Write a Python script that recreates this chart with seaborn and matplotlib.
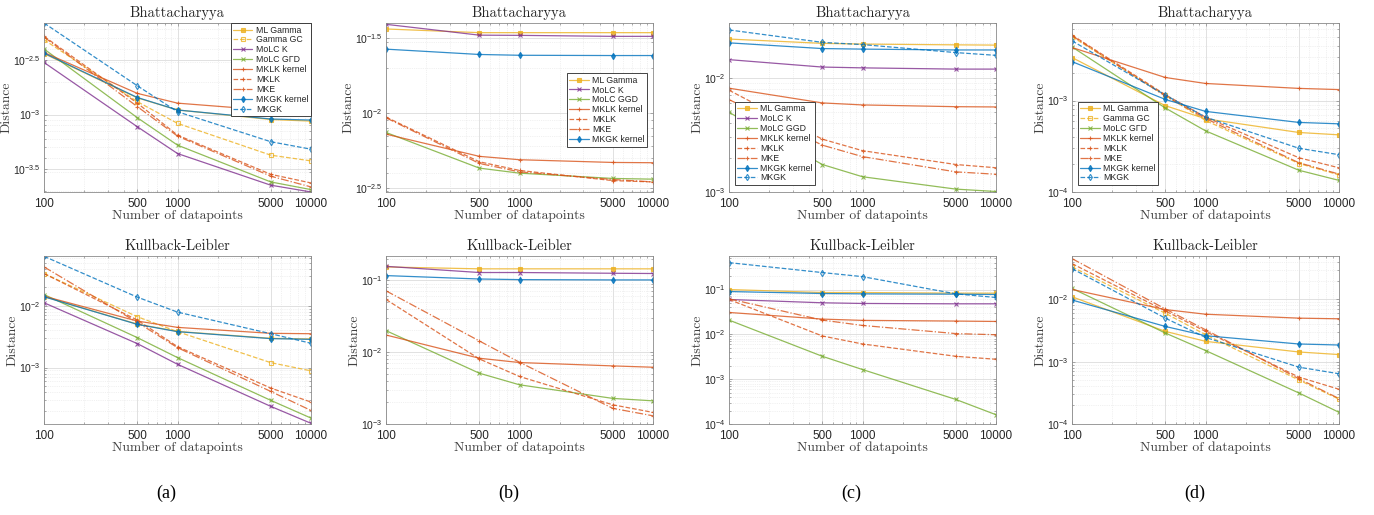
import matplotlib
matplotlib.use("Agg")
import matplotlib.pyplot as plt
import numpy as np
import seaborn as sns
from matplotlib.ticker import LogLocator, NullFormatter

# ---- datos (distancia vs. número de datos) ----
N_POINTS = [100, 500, 1000, 5000, 10000]

BHATT_A = {
    "ML Gamma":    [3.60e-3, 1.42e-3, 1.10e-3, 9.00e-4, 8.70e-4],
    "Gamma GC":    [4.82e-3, 1.31e-3, 8.30e-4, 4.25e-4, 3.77e-4],
    "MoLC K":      [2.99e-3, 7.73e-4, 4.40e-4, 2.26e-4, 1.96e-4],
    "MoLC GΓD":    [3.97e-3, 9.35e-4, 5.25e-4, 2.42e-4, 2.06e-4],
    "MKLK kernel": [3.69e-3, 1.56e-3, 1.27e-3, 1.09e-3, 1.05e-3],
    "MKLK":        [5.18e-3, 1.27e-3, 6.48e-4, 2.84e-4, 2.37e-4],
    "MKE":         [5.10e-3, 1.18e-3, 6.35e-4, 2.73e-4, 2.18e-4],
    "MKGK kernel": [3.64e-3, 1.43e-3, 1.10e-3, 9.10e-4, 8.90e-4],
    "MKGK":        [6.85e-3, 1.83e-3, 1.06e-3, 5.64e-4, 4.82e-4],
}
BHATT_B = {
    "ML Gamma":    [0.0364, 0.0344, 0.0344, 0.0344, 0.0344],
    "MoLC K":      [0.0391, 0.0331, 0.0330, 0.0325, 0.0325],
    "MoLC GGD":    [7.42e-3, 4.29e-3, 3.97e-3, 3.66e-3, 3.62e-3],
    "MKLK kernel": [7.23e-3, 5.14e-3, 4.88e-3, 4.68e-3, 4.66e-3],
    "MKLK":        [9.40e-3, 4.73e-3, 4.14e-3, 3.54e-3, 3.47e-3],
    "MKE":         [9.30e-3, 4.61e-3, 4.05e-3, 3.60e-3, 3.47e-3],
    "MKGK kernel": [0.0267, 0.0246, 0.0243, 0.0242, 0.0242],
}
BHATT_C = {
    "ML Gamma":    [0.0218, 0.0200, 0.0197, 0.0194, 0.0193],
    "MoLC K":      [0.0144, 0.0124, 0.0122, 0.0119, 0.0119],
    "MoLC GGD":    [4.98e-3, 1.74e-3, 1.36e-3, 1.06e-3, 1.01e-3],
    "MKLK kernel": [8.10e-3, 6.02e-3, 5.78e-3, 5.58e-3, 5.55e-3],
    "MKLK":        [7.78e-3, 2.90e-3, 2.30e-3, 1.74e-3, 1.63e-3],
    "MKE":         [6.44e-3, 2.57e-3, 2.04e-3, 1.50e-3, 1.43e-3],
    "MKGK kernel": [0.0202, 0.0180, 0.0178, 0.0175, 0.0175],
    "MKGK":        [0.0262, 0.0204, 0.0195, 0.0166, 0.0157],
}
BHATT_D = {
    "ML Gamma":    [2.96e-3, 8.80e-4, 6.33e-4, 4.48e-4, 4.22e-4],
    "Gamma GC":    [5.00e-3, 1.14e-3, 6.07e-4, 2.05e-4, 1.54e-4],
    "MoLC GΓD":    [3.87e-3, 8.30e-4, 4.67e-4, 1.73e-4, 1.34e-4],
    "MKLK kernel": [3.81e-3, 1.79e-3, 1.54e-3, 1.36e-3, 1.32e-3],
    "MKLK":        [5.21e-3, 1.16e-3, 6.60e-4, 2.37e-4, 1.84e-4],
    "MKE":         [5.13e-3, 1.12e-3, 6.38e-4, 2.09e-4, 1.57e-4],
    "MKGK kernel": [2.67e-3, 1.03e-3, 7.62e-4, 5.77e-4, 5.57e-4],
    "MKGK":        [4.51e-3, 1.15e-3, 6.60e-4, 3.01e-4, 2.56e-4],
}

KL_A = {
    "ML Gamma":    [0.0141, 5.05e-3, 3.85e-3, 2.97e-3, 2.90e-3],
    "Gamma GC":    [0.0333, 6.65e-3, 3.81e-3, 1.20e-3, 8.84e-4],
    "MoLC K":      [0.0112, 2.44e-3, 1.13e-3, 2.35e-4, 1.25e-4],
    "MoLC GΓD":    [0.0152, 3.05e-3, 1.45e-3, 2.94e-4, 1.52e-4],
    "MKLK kernel": [0.0143, 5.66e-3, 4.47e-3, 3.58e-3, 3.53e-3],
    "MKLK":        [0.0333, 5.87e-3, 2.18e-3, 4.65e-4, 2.76e-4],
    "MKE":         [0.0426, 5.39e-3, 2.10e-3, 4.10e-4, 2.02e-4],
    "MKGK kernel": [0.0140, 5.00e-3, 3.81e-3, 2.94e-3, 2.86e-3],
    "MKGK":        [0.0632, 0.0138, 7.90e-3, 3.53e-3, 2.47e-3],
}
KL_B = {
    "ML Gamma":    [0.153, 0.144, 0.144, 0.144, 0.144],
    "MoLC K":      [0.156, 0.128, 0.128, 0.125, 0.124],
    "MoLC GGD":    [0.0199, 5.09e-3, 3.51e-3, 2.27e-3, 2.10e-3],
    "MKLK kernel": [0.0173, 8.22e-3, 7.16e-3, 6.43e-3, 6.16e-3],
    "MKLK":        [0.0540, 8.04e-3, 4.58e-3, 1.85e-3, 1.45e-3],
    "MKE":         [0.0712, 0.0143, 7.23e-3, 1.65e-3, 1.30e-3],
    "MKGK kernel": [0.116, 0.104, 0.102, 0.101, 0.101],
}
KL_C = {
    "ML Gamma":    [0.100, 0.0858, 0.0858, 0.0829, 0.0829],
    "MoLC K":      [0.060, 0.0506, 0.0489, 0.0480, 0.0480],
    "MoLC GGD":    [0.0208, 3.24e-3, 1.64e-3, 3.53e-4, 1.61e-4],
    "MKLK kernel": [0.0308, 0.0219, 0.0205, 0.0198, 0.0194],
    "MKLK":        [0.060, 9.20e-3, 6.10e-3, 3.24e-3, 2.78e-3],
    "MKE":         [0.062, 0.0208, 0.0158, 0.0104, 9.80e-3],
    "MKGK kernel": [0.0903, 0.0815, 0.0801, 0.0788, 0.0774],
    "MKGK":        [0.398, 0.239, 0.194, 0.0801, 0.0664],
}
KL_D = {
    "ML Gamma":    [0.0110, 3.06e-3, 2.12e-3, 1.43e-3, 1.30e-3],
    "Gamma GC":    [0.0331, 5.98e-3, 2.71e-3, 5.08e-4, 2.50e-4],
    "MoLC GΓD":    [0.0150, 2.88e-3, 1.51e-3, 3.15e-4, 1.54e-4],
    "MKLK kernel": [0.0144, 6.85e-3, 5.77e-3, 4.99e-3, 4.87e-3],
    "MKLK":        [0.0374, 6.52e-3, 3.06e-3, 5.66e-4, 3.61e-4],
    "MKE":         [0.0450, 7.01e-3, 3.25e-3, 5.33e-4, 2.56e-4],
    "MKGK kernel": [9.76e-3, 3.67e-3, 2.61e-3, 1.92e-3, 1.85e-3],
    "MKGK":        [0.0311, 4.99e-3, 2.45e-3, 8.16e-4, 6.40e-4],
}

# exponentes de las marcas del eje y
YTICK_EXP = {
    "BA": [-3.5, -3, -2.5], "BB": [-2.5, -2, -1.5], "BC": [-3, -2], "BD": [-4, -3],
    "KA": [-3, -2], "KB": [-3, -2, -1], "KC": [-4, -3, -2, -1], "KD": [-4, -3, -2],
}

# ---- estilos (colores MATLAB por defecto) ----
STYLE = {
    "ML Gamma":    ("#EDB120", "-",  "s", True),
    "Gamma GC":    ("#EDB120", "--", "s", False),
    "MoLC K":      ("#7E2F8E", "-",  "x", True),
    "MoLC GΓD":    ("#77AC30", "-",  "x", True),
    "MoLC GGD":    ("#77AC30", "-",  "x", True),
    "MKLK kernel": ("#D95319", "-",  "+", True),
    "MKLK":        ("#D95319", "--", "+", True),
    "MKE":         ("#D95319", "-.", "+", True),
    "MKGK kernel": ("#0072BD", "-",  "d", True),
    "MKGK":        ("#0072BD", "--", "d", False),
}

sns.set_theme(style="ticks")
plt.rcParams["font.family"] = ["Liberation Sans", "DejaVu Sans"]
plt.rcParams["mathtext.fontset"] = "custom"
plt.rcParams["mathtext.rm"] = "Liberation Sans"
plt.rcParams["mathtext.it"] = "Liberation Sans:italic"

SERIF = "cmr10"


def draw_panel(ax, data, title, ylim_exp, yexps, legend=None):
    ax.set(xscale="log", yscale="log")
    for name, vals in data.items():
        color, ls, marker, filled = STYLE[name]
        sns.lineplot(x=N_POINTS, y=vals, ax=ax, color=color, linestyle=ls, lw=0.9,
                     marker=marker, markersize=3.2, mec=color, mew=0.8,
                     markerfacecolor=color if filled else "none",
                     label=name, legend=False, alpha=0.8)
    ax.set_xlim(100, 10000)
    ax.set_xticks(N_POINTS)
    ax.set_xticklabels([str(n) for n in N_POINTS])
    ax.xaxis.set_minor_locator(LogLocator(base=10, subs=np.arange(2, 10)))
    ax.xaxis.set_minor_formatter(NullFormatter())
    ax.set_ylim(10 ** ylim_exp[0], 10 ** ylim_exp[1])
    ax.set_yticks([10 ** e for e in yexps])
    ax.set_yticklabels([rf"$10^{{{e:g}}}$" for e in yexps])
    ax.yaxis.set_minor_locator(LogLocator(base=10, subs=np.arange(2, 10)))
    ax.yaxis.set_minor_formatter(NullFormatter())

    ax.set_axisbelow(True)
    ax.grid(True, which="major", color="#DCDCDC", lw=0.6, ls="-")
    ax.grid(True, which="minor", color="#E4E4E4", lw=0.5, ls=":")
    for s in ax.spines.values():
        s.set_visible(True); s.set_color("#8A8A8A"); s.set_linewidth(0.6)
    ax.tick_params(which="both", direction="in", top=True, right=True,
                   colors="#8A8A8A", labelcolor="#262626", width=0.5)
    ax.tick_params(axis="x", pad=4, labelsize=8.5)
    ax.tick_params(axis="y", pad=2.5, labelsize=7.5)
    ax.tick_params(which="major", length=2.5)
    ax.tick_params(which="minor", length=1.5)

    ax.set_title(title, fontsize=10.5, fontfamily=SERIF, pad=4, color="#262626")
    ax.set_xlabel("Number of datapoints", fontsize=9.8, fontfamily=SERIF,
                  labelpad=0, color="#404040")
    ax.set_ylabel("Distance", fontsize=9.8, fontfamily=SERIF, labelpad=0,
                  color="#404040")

    if legend is not None:
        loc, anchor = legend
        leg = ax.legend(loc=loc, bbox_to_anchor=anchor, fontsize=6.3,
                        frameon=True, fancybox=False, framealpha=1,
                        edgecolor="#262626", borderpad=0.3, labelspacing=0.1,
                        handlelength=2.2, handletextpad=0.4, borderaxespad=0)
        leg.get_frame().set_linewidth(0.6)
    else:
        leg = ax.get_legend()
        if leg is not None:
            leg.remove()


fig = plt.figure(figsize=(13.74, 5.15), dpi=100)
W, H = 1374, 515
lefts = [44, 386, 729, 1072]
aw = 267

top_row = [
    (BHATT_A, (-3.708, -2.164), YTICK_EXP["BA"], ("upper right", (1.0, 1.0))),
    (BHATT_B, (-2.527, -1.399), YTICK_EXP["BB"], ("upper right", (0.978, 0.704))),
    (BHATT_C, (-3.0, -1.521), YTICK_EXP["BC"], ("lower left", (0.022, 0.041))),
    (BHATT_D, (-4.0, -2.151), YTICK_EXP["BD"], ("lower left", (0.022, 0.041))),
]
bottom_row = [
    (KL_A, (-3.914, -1.194), YTICK_EXP["KA"]),
    (KL_B, (-3.0, -0.663), YTICK_EXP["KB"]),
    (KL_C, (-4.0, -0.252), YTICK_EXP["KC"]),
    (KL_D, (-4.0, -1.305), YTICK_EXP["KD"]),
]

for i, (data, ylim, yt, leg) in enumerate(top_row):
    ax = fig.add_axes([lefts[i] / W, 1 - 192 / H, aw / W, 169 / H])
    draw_panel(ax, data, "Bhattacharyya", ylim, yt, legend=leg)

for i, (data, ylim, yt) in enumerate(bottom_row):
    ax = fig.add_axes([lefts[i] / W, 1 - 424 / H, aw / W, 168 / H])
    draw_panel(ax, data, "Kullback-Leibler", ylim, yt)

for i, lab in enumerate(["(a)", "(b)", "(c)", "(d)"]):
    fig.text((lefts[i] + aw / 2 - 11) / W, 1 - 493 / H, lab, ha="center",
             va="center", fontsize=13, fontfamily="Liberation Serif", color="black")

fig.savefig("out.png", dpi=100)
plt.close(fig)
